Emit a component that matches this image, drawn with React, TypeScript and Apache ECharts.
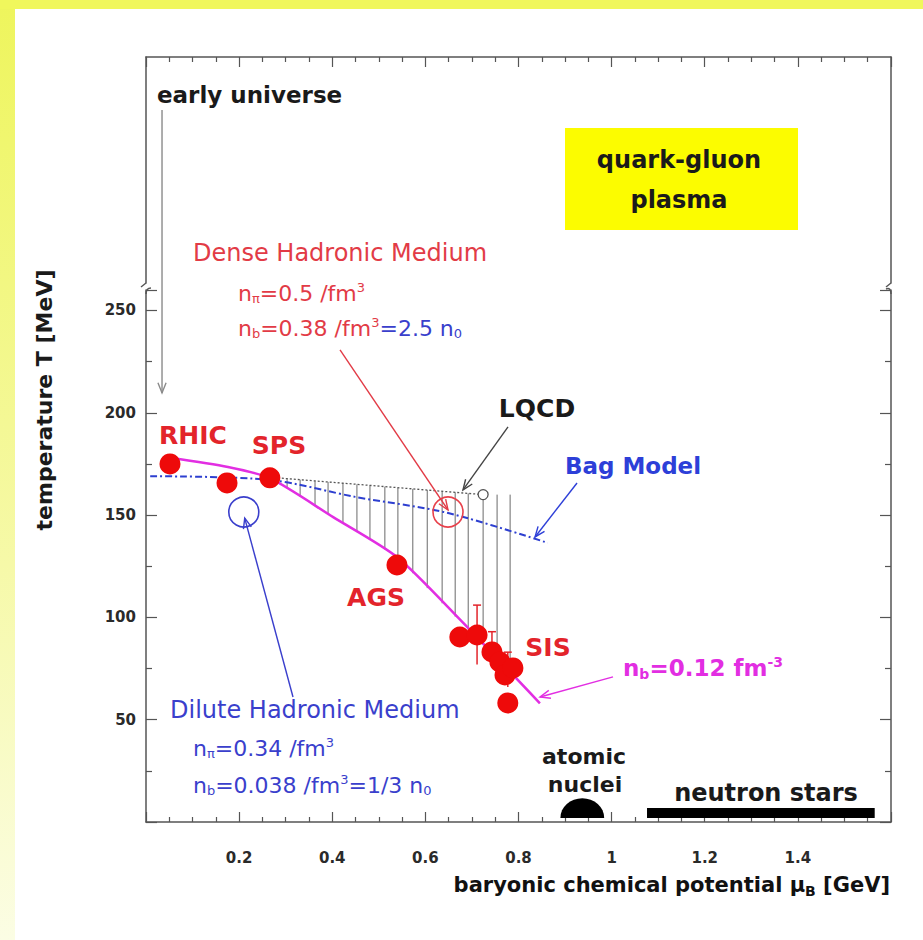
import React, { useEffect, useRef } from 'react';
import * as echarts from 'echarts';

const FONT = '"DejaVu Sans", "Liberation Sans", sans-serif';

// chemical freeze-out points (muB [GeV], T [MeV])
const freezeMu = [0.0515, 0.174, 0.266, 0.539, 0.674, 0.711, 0.743, 0.76, 0.771, 0.788, 0.777];
const freezeT = [175.0, 165.7, 168.2, 125.6, 90.4, 91.4, 83.1, 78.2, 71.9, 75.3, 58.2];

// error bars on SIS points
const errMu = [0.711, 0.743, 0.777];
const errLo = [77, 76, 66];
const errHi = [106, 93, 83];

// n_b = 0.12 fm^-3 curve
const nbMu = [0.0515, 0.176, 0.266, 0.402, 0.539, 0.674, 0.846];
const nbT = [178, 173.5, 168, 149, 129.5, 99, 58];

// Bag model curve
const bagMu = [0.009, 0.266, 0.449, 0.649, 0.863];
const bagT = [169, 167.2, 158.9, 151, 136.4];

// LQCD line and end point
const lqcdMu = [0.266, 0.724];
const lqcdT = [168.5, 160];

// hatching between LQCD line and n_b curve
const hatchMu = [0.303, 0.331, 0.363, 0.391, 0.423, 0.453, 0.481, 0.513, 0.541, 0.573, 0.604, 0.636, 0.664, 0.692, 0.724, 0.754, 0.782];
const hatchTop = [167.8, 167.3, 166.7, 166.2, 165.6, 165.0, 164.5, 163.9, 163.4, 162.8, 162.2, 161.7, 161.1, 160.6, 160, 160, 160];
const hatchBottom = [163, 159, 154.5, 150.5, 146, 141.7, 137.8, 133.2, 129, 121.6, 114.3, 106.9, 100.4, 93.9, 86.4, 79.4, 72.9];

// media circles
const denseCircle = [0.6486, 151.5];
const diluteCircle = [0.21, 151.5];

// annotation arrows [mu1, T1, mu2, T2, colourIndex]
const arrows = [
  [0.0344, 348, 0.0344, 209.7, 0],
  [0.4167, 230.7, 0.6486, 152.5, 1],
  [0.3157, 61.1, 0.212, 148.5, 2],
  [0.7775, 193.1, 0.6808, 162.3, 3],
  [0.9257, 165.7, 0.8355, 139.3, 4],
  [1.003, 70.9, 0.8462, 61.1, 5],
];
const arrowColors = ['#8a8a8a', '#e23b46', '#3a3fcc', '#444444', '#2d3fd8', '#e22ee2'];

// atomic nuclei (centre mu, base T, half width) and neutron stars (mu from, mu to, T from, T to)
const nuclei = [[0.937, 2, 0.047]];
const neutronStars = [[1.076, 1.565, 2, 6.8]];

const xTicks = { min: 0, max: 1.6, interval: 0.2 };
const yTicks = { min: 0, max: 260, interval: 50 };

const RED_TXT = '#e23b46';
const BLUE_TXT = '#3a3fcc';
const MAGENTA = '#e22ee2';
const LABEL_RED = '#e3242b';

const mkRich = (fill: string, size: number, weight: string, subSize: number) => ({
  m: { fill, fontSize: size, fontWeight: weight, fontFamily: FONT },
  sub: { fill, fontSize: subSize, fontWeight: weight, fontFamily: FONT, padding: [Math.round(size * 0.5), 0, 0, 0] },
  sup: { fill, fontSize: subSize, fontWeight: weight, fontFamily: FONT, padding: [0, 0, Math.round(size * 0.5), 0] },
});

const txt = (x: number, y: number, text: string, size: number, fill: string, weight = 'normal', align = 'left', extra: any = {}) => ({
  type: 'text',
  x,
  y,
  z: 100,
  ...extra,
  style: {
    text,
    fill,
    fontSize: size,
    fontWeight: weight,
    fontFamily: FONT,
    align,
    textAlign: align,
    verticalAlign: 'middle',
    textVerticalAlign: 'middle',
    ...(extra.style || {}),
  },
});

function buildOption() {
  const axisLineStyle = { color: '#555', width: 1.5 };
  const tickStyle = { color: '#555', width: 1.2 };
  const labelStyle = { fontFamily: FONT, fontWeight: 'bold', fontSize: 15, color: '#2a2a2a' };

  const denseRich: any = mkRich(RED_TXT, 22, 'normal', 13);
  denseRich.b = { fill: BLUE_TXT, fontSize: 22, fontFamily: FONT };
  denseRich.bsub = { fill: BLUE_TXT, fontSize: 13, fontFamily: FONT, padding: [11, 0, 0, 0] };
  const diluteRich = mkRich(BLUE_TXT, 22, 'normal', 13);
  const nbRich = mkRich(MAGENTA, 23, 'bold', 14);
  const titleRich = {
    m: { fill: '#111', fontSize: 21, fontWeight: 'bold', fontFamily: FONT },
    sub: { fill: '#111', fontSize: 14, fontWeight: 'bold', fontFamily: FONT, padding: [11, 0, 0, 0] },
  };

  return {
    animation: false,
    backgroundColor: '#ffffff',
    grid: [
      { left: 146, top: 290, width: 745, height: 532 },
      { left: 146, top: 57, width: 745, height: 226 },
    ],
    xAxis: [
      {
        gridIndex: 0, type: 'value', position: 'bottom', ...xTicks,
        axisLine: { show: true, onZero: false, lineStyle: axisLineStyle },
        axisTick: { show: true, inside: true, length: 10, lineStyle: tickStyle },
        minorTick: { show: true, splitNumber: 4, length: 5, lineStyle: tickStyle },
        axisLabel: {
          ...labelStyle, margin: 28,
          formatter: (v: number) => (v < 0.01 || v > 1.59 ? '' : String(Number(v.toFixed(1)))),
        },
        splitLine: { show: false },
      },
      {
        gridIndex: 1, type: 'value', position: 'top', ...xTicks,
        axisLine: { show: true, onZero: false, lineStyle: axisLineStyle },
        axisTick: { show: true, inside: true, length: 10, lineStyle: tickStyle },
        minorTick: { show: true, splitNumber: 4, length: 5, lineStyle: tickStyle },
        axisLabel: { show: false },
        splitLine: { show: false },
      },
    ],
    yAxis: [
      {
        gridIndex: 0, type: 'value', position: 'left', ...yTicks,
        axisLine: { show: true, onZero: false, lineStyle: axisLineStyle },
        axisTick: { show: true, inside: true, length: 11, lineStyle: tickStyle },
        minorTick: { show: true, splitNumber: 2, length: 6, lineStyle: tickStyle },
        axisLabel: { ...labelStyle, margin: 10, formatter: (v: number) => (v < 1 || v > 255 ? '' : String(v)) },
        splitLine: { show: false },
      },
      {
        gridIndex: 0, type: 'value', position: 'right', ...yTicks,
        axisLine: { show: true, onZero: false, lineStyle: axisLineStyle },
        axisTick: { show: true, inside: true, length: 11, lineStyle: tickStyle },
        minorTick: { show: true, splitNumber: 2, length: 6, lineStyle: tickStyle },
        axisLabel: { show: false },
        splitLine: { show: false },
      },
      {
        gridIndex: 1, type: 'value', position: 'left', min: 0, max: 1,
        axisLine: { show: true, onZero: false, lineStyle: axisLineStyle },
        axisTick: { show: false }, axisLabel: { show: false }, splitLine: { show: false },
      },
      {
        gridIndex: 1, type: 'value', position: 'right', min: 0, max: 1,
        axisLine: { show: true, onZero: false, lineStyle: axisLineStyle },
        axisTick: { show: false }, axisLabel: { show: false }, splitLine: { show: false },
      },
    ],
    series: [
      {
        type: 'custom', name: 'hatch', xAxisIndex: 0, yAxisIndex: 0, silent: true, z: 1,
        data: hatchMu.map((m, i) => [m, hatchBottom[i], hatchTop[i]]),
        encode: { x: 0, y: [1, 2] },
        renderItem: (params: any, api: any) => {
          const a = api.coord([api.value(0), api.value(1)]);
          const b = api.coord([api.value(0), api.value(2)]);
          return { type: 'line', shape: { x1: a[0], y1: a[1], x2: b[0], y2: b[1] }, style: { stroke: '#6a6a6a', lineWidth: 1 } };
        },
      },
      {
        type: 'line', name: 'Bag Model', xAxisIndex: 0, yAxisIndex: 0, showSymbol: false, smooth: 0.3, z: 3,
        data: bagMu.map((m, i) => [m, bagT[i]]),
        lineStyle: { color: '#2d3fd0', width: 2, type: [7, 3, 2, 3] },
      },
      {
        type: 'line', name: 'LQCD', xAxisIndex: 0, yAxisIndex: 0, showSymbol: false, z: 3,
        data: lqcdMu.map((m, i) => [m, lqcdT[i]]),
        lineStyle: { color: '#555', width: 1.3, type: [2, 2] },
      },
      {
        type: 'scatter', name: 'LQCD point', xAxisIndex: 0, yAxisIndex: 0, z: 4,
        data: [[lqcdMu[1], lqcdT[1]]], symbol: 'circle', symbolSize: 10,
        itemStyle: { color: '#ffffff', borderColor: '#555', borderWidth: 1.3, opacity: 1 },
      },
      {
        type: 'line', name: 'n_b = 0.12 fm^-3', xAxisIndex: 0, yAxisIndex: 0, showSymbol: false, smooth: 0.25, z: 4,
        data: nbMu.map((m, i) => [m, nbT[i]]),
        lineStyle: { color: MAGENTA, width: 2.5 },
      },
      {
        type: 'custom', name: 'errors', xAxisIndex: 0, yAxisIndex: 0, z: 4,
        data: errMu.map((m, i) => [m, errLo[i], errHi[i]]),
        encode: { x: 0, y: [1, 2] },
        renderItem: (params: any, api: any) => {
          const a = api.coord([api.value(0), api.value(1)]);
          const b = api.coord([api.value(0), api.value(2)]);
          const st = { stroke: '#e3242b', lineWidth: 1.5 };
          return {
            type: 'group',
            children: [
              { type: 'line', shape: { x1: a[0], y1: a[1], x2: b[0], y2: b[1] }, style: st },
              { type: 'line', shape: { x1: b[0] - 4, y1: b[1], x2: b[0] + 4, y2: b[1] }, style: st },
            ],
          };
        },
      },
      {
        type: 'scatter', name: 'freeze-out', xAxisIndex: 0, yAxisIndex: 0, z: 5,
        data: freezeMu.map((m, i) => [m, freezeT[i]]), symbol: 'circle', symbolSize: 21,
        itemStyle: { color: '#ee0a0a', opacity: 1 },
      },
      {
        type: 'scatter', name: 'dense medium', xAxisIndex: 0, yAxisIndex: 0, z: 5,
        data: [denseCircle], symbol: 'circle', symbolSize: 30,
        itemStyle: { color: 'rgba(0,0,0,0)', borderColor: '#e8404a', borderWidth: 1.6, opacity: 1 },
      },
      {
        type: 'scatter', name: 'dilute medium', xAxisIndex: 0, yAxisIndex: 0, z: 5,
        data: [diluteCircle], symbol: 'circle', symbolSize: 30,
        itemStyle: { color: 'rgba(0,0,0,0)', borderColor: '#3a3fcc', borderWidth: 1.6, opacity: 1 },
      },
      {
        type: 'custom', name: 'arrows', xAxisIndex: 0, yAxisIndex: 0, z: 6, clip: false, silent: true,
        data: arrows,
        encode: { x: [0, 2], y: [1, 3] },
        renderItem: (params: any, api: any) => {
          const p1 = api.coord([api.value(0), api.value(1)]);
          const p2 = api.coord([api.value(2), api.value(3)]);
          const color = arrowColors[api.value(4)];
          const ang = Math.atan2(p2[1] - p1[1], p2[0] - p1[0]);
          const L = 11;
          const a = 0.38;
          const h1 = [p2[0] - L * Math.cos(ang - a), p2[1] - L * Math.sin(ang - a)];
          const h2 = [p2[0] - L * Math.cos(ang + a), p2[1] - L * Math.sin(ang + a)];
          return {
            type: 'group',
            children: [
              { type: 'line', shape: { x1: p1[0], y1: p1[1], x2: p2[0], y2: p2[1] }, style: { stroke: color, lineWidth: 1.4 } },
              { type: 'polyline', shape: { points: [h1, p2, h2] }, style: { stroke: color, lineWidth: 1.4, fill: 'none' } },
            ],
          };
        },
      },
      {
        type: 'custom', name: 'atomic nuclei', xAxisIndex: 0, yAxisIndex: 0, z: 5,
        data: nuclei,
        encode: { x: 0, y: 1 },
        renderItem: (params: any, api: any) => {
          const c = api.coord([api.value(0), api.value(1)]);
          const r = api.size([api.value(2), 0])[0];
          return {
            type: 'sector', x: c[0], y: c[1], scaleY: 0.9,
            shape: { cx: 0, cy: 0, r0: 0, r, startAngle: Math.PI, endAngle: Math.PI * 2 },
            style: { fill: '#000' },
          };
        },
      },
      {
        type: 'custom', name: 'neutron stars', xAxisIndex: 0, yAxisIndex: 0, z: 5,
        data: neutronStars,
        encode: { x: [0, 1], y: [2, 3] },
        renderItem: (params: any, api: any) => {
          const a = api.coord([api.value(0), api.value(3)]);
          const b = api.coord([api.value(1), api.value(2)]);
          return { type: 'rect', shape: { x: a[0], y: a[1], width: b[0] - a[0], height: b[1] - a[1] }, style: { fill: '#000' } };
        },
      },
    ],
    graphic: [
      {
        type: 'rect', z: 0, silent: true, shape: { x: 0, y: 0, width: 15, height: 940 },
        style: { fill: new echarts.graphic.LinearGradient(0, 0, 0, 1, [{ offset: 0, color: '#eef55c' }, { offset: 0.6, color: '#f6f9a8' }, { offset: 1, color: '#fbfde4' }]) },
      },
      { type: 'rect', z: 0, silent: true, shape: { x: 0, y: 0, width: 923, height: 9 }, style: { fill: '#f0f75c' } },
      // axis breaks
      { type: 'line', z: 50, shape: { x1: 146, y1: 283, x2: 141, y2: 287 }, style: { stroke: '#555', lineWidth: 1.5 } },
      { type: 'bezierCurve', z: 50, shape: { x1: 151, y1: 288, cpx1: 146, cpy1: 288, x2: 146, y2: 294 }, style: { stroke: '#555', lineWidth: 1.5, fill: 'none' } },
      { type: 'line', z: 50, shape: { x1: 891, y1: 283, x2: 886, y2: 287 }, style: { stroke: '#555', lineWidth: 1.5 } },
      { type: 'bezierCurve', z: 50, shape: { x1: 886, y1: 289, cpx1: 891, cpy1: 287, x2: 891, y2: 294 }, style: { stroke: '#555', lineWidth: 1.5, fill: 'none' } },
      // QGP box
      { type: 'rect', z: 20, shape: { x: 565, y: 128, width: 233, height: 102 }, style: { fill: '#fcfc00' } },
      txt(679, 160, 'quark-gluon', 24, '#1a1a1a', 'bold', 'center'),
      txt(679, 200, 'plasma', 24, '#1a1a1a', 'bold', 'center'),
      txt(157, 95, 'early universe', 23, '#1a1a1a', 'bold', 'left'),
      txt(193, 253, 'Dense Hadronic Medium', 24, RED_TXT, 'normal', 'left'),
      txt(238, 293, '', 22, RED_TXT, 'normal', 'left', { style: { text: '{m|n}{sub|π}{m|=0.5 /fm}{sup|3}', rich: denseRich } }),
      txt(238, 328, '', 22, RED_TXT, 'normal', 'left', { style: { text: '{m|n}{sub|b}{m|=0.38 /fm}{sup|3}{b|=2.5 n}{bsub|0}', rich: denseRich } }),
      txt(193, 435, 'RHIC', 25, LABEL_RED, 'bold', 'center'),
      txt(279, 445, 'SPS', 25, LABEL_RED, 'bold', 'center'),
      txt(376, 597, 'AGS', 25, LABEL_RED, 'bold', 'center'),
      txt(548, 647, 'SIS', 25, LABEL_RED, 'bold', 'center'),
      txt(537, 408, 'LQCD', 25, '#1a1a1a', 'bold', 'center'),
      txt(633, 466, 'Bag Model', 23, '#2d3fd8', 'bold', 'center'),
      txt(623, 668, '', 23, MAGENTA, 'bold', 'left', { style: { text: '{m|n}{sub|b}{m|=0.12 fm}{sup|-3}', rich: nbRich } }),
      txt(170, 710, 'Dilute Hadronic Medium', 24, BLUE_TXT, 'normal', 'left'),
      txt(193, 748, '', 22, BLUE_TXT, 'normal', 'left', { style: { text: '{m|n}{sub|π}{m|=0.34 /fm}{sup|3}', rich: diluteRich } }),
      txt(193, 785, '', 22, BLUE_TXT, 'normal', 'left', { style: { text: '{m|n}{sub|b}{m|=0.038 /fm}{sup|3}{m|=1/3 n}{sub|0}', rich: diluteRich } }),
      txt(584, 756, 'atomic', 22, '#1a1a1a', 'bold', 'center'),
      txt(585, 784, 'nuclei', 22, '#1a1a1a', 'bold', 'center'),
      txt(766, 793, 'neutron stars', 24, '#1a1a1a', 'bold', 'center'),
      txt(44, 400, 'temperature T [MeV]', 22, '#1a1a1a', 'bold', 'center', { rotation: Math.PI / 2 }),
      txt(890, 885, '', 21, '#111', 'bold', 'right', { style: { text: '{m|baryonic chemical potential μ}{sub|B}{m| [GeV]}', rich: titleRich } }),
    ],
  };
}

export default function App() {
  const ref = useRef<HTMLDivElement>(null);
  useEffect(() => {
    if (!ref.current) return;
    const chart = echarts.init(ref.current, null, { renderer: 'svg' });
    chart.setOption(buildOption() as any);
    return () => chart.dispose();
  }, []);
  return (
    <div
      ref={ref}
      style={{ position: 'fixed', left: 0, top: 0, width: 923, height: 940, background: '#ffffff' }}
    />
  );
}
